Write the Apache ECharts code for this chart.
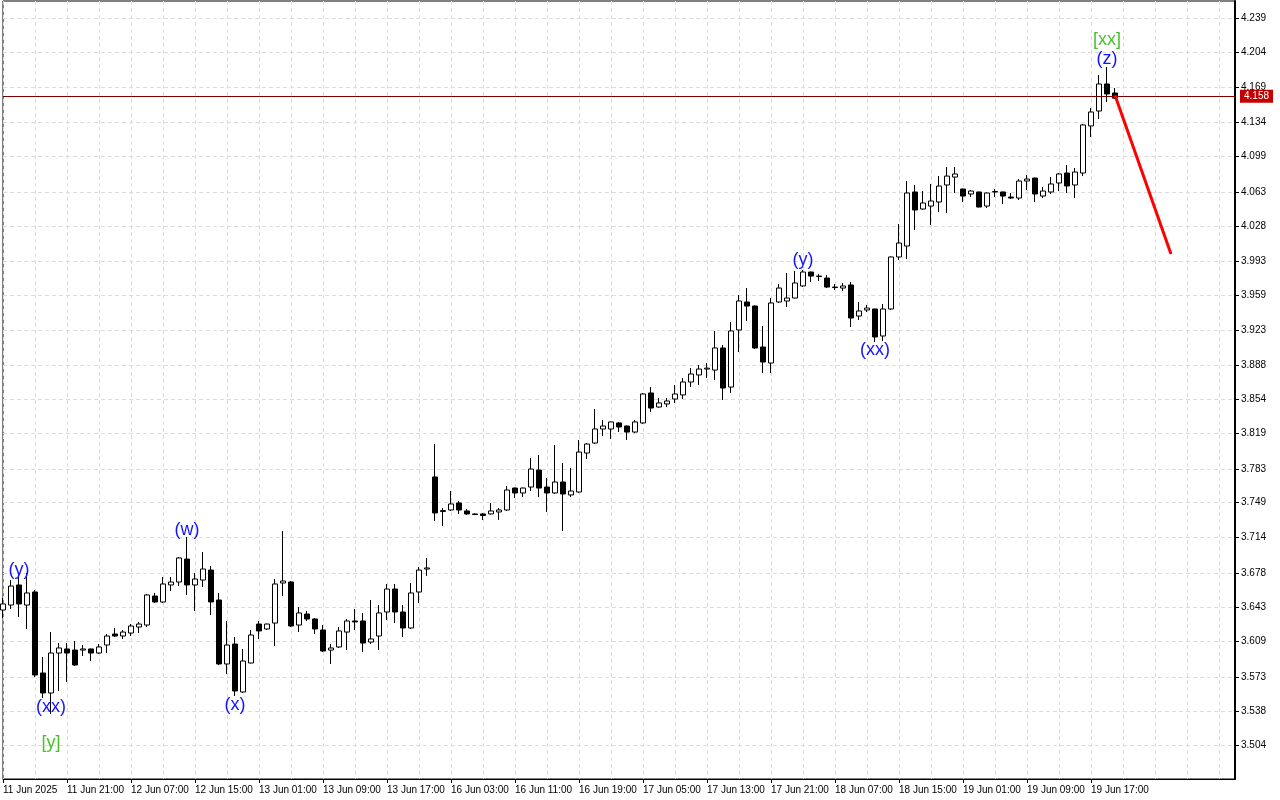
<!DOCTYPE html>
<html>
<head>
<meta charset="utf-8">
<script src="https://cdn.jsdelivr.net/npm/echarts@6.0.0/dist/echarts.min.js"></script>
<style>
html,body{margin:0;padding:0;background:#fff;}
#chart{width:1280px;height:800px;}
</style>
</head>
<body>
<div id="chart"></div>
<script>
// ---- Data ----
// Each bar: [open, close, low, high]
const bars = [
[3.6405,3.6466,3.6324,3.6526],[3.6455,3.6647,3.6415,3.6708],[3.6658,3.6466,3.6334,3.6779],[3.6455,3.6577,3.6213,3.6779],
[3.6587,3.5748,3.5727,3.6607],[3.5768,3.5566,3.5515,3.5930],[3.5566,3.5970,3.5353,3.6182],[3.5970,3.6021,3.5586,3.6071],
[3.6011,3.5970,3.5677,3.6071],[3.6000,3.5849,3.5839,3.6091],[3.6000,3.6011,3.5940,3.6051],[3.6011,3.5970,3.5889,3.6015],
[3.5970,3.6031,3.5960,3.6061],[3.6051,3.6142,3.5970,3.6162],[3.6162,3.6142,3.6132,3.6223],[3.6142,3.6182,3.6112,3.6203],
[3.6172,3.6243,3.6142,3.6263],[3.6233,3.6263,3.6172,3.6284],[3.6253,3.6557,3.6233,3.6567],[3.6546,3.6486,3.6476,3.6577],
[3.6486,3.6668,3.6476,3.6739],[3.6658,3.6688,3.6597,3.6739],[3.6688,3.6931,3.6648,3.6941],[3.6920,3.6658,3.6557,3.7143],
[3.6658,3.6718,3.6395,3.6779],[3.6708,3.6819,3.6637,3.6991],[3.6809,3.6486,3.6354,3.6850],[3.6506,3.5859,3.5849,3.6577],
[3.5859,3.6051,3.5758,3.6294],[3.6061,3.5586,3.5536,3.6132],[3.5576,3.5889,3.5566,3.6011],[3.5869,3.6152,3.5865,3.6203],
[3.6263,3.6193,3.6112,3.6294],[3.6213,3.6263,3.6203,3.6268],[3.6273,3.6668,3.6041,3.6718],[3.6678,3.6698,3.6546,3.7204],
[3.6688,3.6243,3.6233,3.6698],[3.6253,3.6375,3.6182,3.6435],[3.6364,3.6314,3.6294,3.6395],[3.6314,3.6213,3.6162,3.6324],
[3.6203,3.5990,3.5980,3.6253],[3.6000,3.6021,3.5859,3.6061],[3.6031,3.6193,3.6021,3.6233],[3.6182,3.6294,3.6000,3.6314],
[3.6294,3.6284,3.6203,3.6415],[3.6294,3.6071,3.5980,3.6375],[3.6081,3.6112,3.6061,3.6506],[3.6142,3.6375,3.6000,3.6455],
[3.6385,3.6617,3.6304,3.6668],[3.6617,3.6385,3.6273,3.6668],[3.6385,3.6223,3.6132,3.6455],[3.6223,3.6577,3.6213,3.6678],
[3.6587,3.6809,3.6476,3.6840],[3.6819,3.6830,3.6749,3.6931],[3.7750,3.7386,3.7305,3.8083],[3.7400,3.7410,3.7254,3.7436],
[3.7416,3.7477,3.7406,3.7608],[3.7487,3.7416,3.7376,3.7507],[3.7406,3.7376,3.7365,3.7426],[3.7376,3.7370,3.7365,3.7380],
[3.7376,3.7360,3.7315,3.7386],[3.7376,3.7406,3.7370,3.7487],[3.7396,3.7416,3.7315,3.7436],[3.7416,3.7618,3.7406,3.7659],
[3.7638,3.7588,3.7537,3.7643],[3.7588,3.7638,3.7547,3.7643],[3.7648,3.7830,3.7608,3.7942],[3.7820,3.7638,3.7547,3.7972],
[3.7648,3.7588,3.7396,3.7739],[3.7588,3.7699,3.7578,3.8073],[3.7699,3.7578,3.7204,3.7891],[3.7568,3.7608,3.7547,3.7840],
[3.7598,3.8002,3.7590,3.8124],[3.7992,3.8083,3.7932,3.8093],[3.8093,3.8235,3.8083,3.8437],[3.8235,3.8265,3.8164,3.8326],
[3.8235,3.8306,3.8134,3.8310],[3.8296,3.8255,3.8204,3.8306],[3.8265,3.8204,3.8124,3.8270],[3.8204,3.8306,3.8194,3.8326],
[3.8296,3.8589,3.8286,3.8599],[3.8599,3.8447,3.8407,3.8660],[3.8457,3.8498,3.8450,3.8548],[3.8488,3.8518,3.8457,3.8548],
[3.8538,3.8589,3.8498,3.8680],[3.8579,3.8710,3.8538,3.8750],[3.8710,3.8791,3.8659,3.8852],[3.8781,3.8841,3.8680,3.8882],
[3.8841,3.8850,3.8751,3.8902],[3.8831,3.9054,3.8730,3.9226],[3.9054,3.8649,3.8528,3.9084],[3.8659,3.9226,3.8599,3.9317],
[3.9236,3.9529,3.9013,3.9590],[3.9519,3.9478,3.9327,3.9660],[3.9478,3.9054,3.9044,3.9485],[3.9064,3.8912,3.8801,3.9276],
[3.8902,3.9509,3.8801,3.9559],[3.9519,3.9660,3.9509,3.9701],[3.9529,3.9559,3.9468,3.9812],[3.9559,3.9711,3.9555,3.9832],
[3.9681,3.9822,3.9670,3.9842],[3.9822,3.9781,3.9721,3.9825],[3.9781,3.9776,3.9731,3.9802],[3.9761,3.9670,3.9660,3.9791],
[3.9670,3.9665,3.9640,3.9700],[3.9660,3.9681,3.9630,3.9711],[3.9691,3.9357,3.9266,3.9721],[3.9377,3.9428,3.9337,3.9519],
[3.9438,3.9458,3.9418,3.9489],[3.9448,3.9165,3.9114,3.9450],[3.9175,3.9448,3.9124,3.9499],[3.9448,3.9974,3.9438,3.9980],
[3.9974,4.0115,3.9944,4.0307],[4.0085,4.0621,3.9953,4.0742],[4.0631,4.0449,4.0247,4.0702],[4.0459,4.0520,4.0450,4.0641],
[4.0489,4.0540,4.0297,4.0712],[4.0530,4.0691,4.0429,4.0792],[4.0702,4.0792,4.0419,4.0884],[4.0782,4.0813,4.0621,4.0884],
[4.0661,4.0590,4.0530,4.0665],[4.0611,4.0641,4.0580,4.0651],[4.0631,4.0479,4.0475,4.0635],[4.0489,4.0621,4.0469,4.0625],
[4.0631,4.0636,4.0580,4.0661],[4.0631,4.0590,4.0510,4.0636],[4.0580,4.0570,4.0560,4.0621],[4.0570,4.0742,4.0550,4.0762],
[4.0742,4.0762,4.0651,4.0803],[4.0772,4.0611,4.0530,4.0776],[4.0590,4.0641,4.0570,4.0681],[4.0631,4.0712,4.0611,4.0782],
[4.0722,4.0813,4.0641,4.0823],[4.0823,4.0692,4.0621,4.0904],[4.0702,4.0833,4.0570,4.0874],[4.0823,4.1309,4.0792,4.1319],
[4.1299,4.1440,4.1187,4.1480],[4.1450,4.1723,4.1369,4.1814],[4.1723,4.1622,4.1541,4.1895],[4.1632,4.1580,4.1570,4.1682]
];

// x tick labels, one every 8 bars
const xTickLabels = ['11 Jun 2025','11 Jun 21:00','12 Jun 07:00','12 Jun 15:00','13 Jun 01:00','13 Jun 09:00',
  '13 Jun 17:00','16 Jun 03:00','16 Jun 11:00','16 Jun 19:00','17 Jun 05:00','17 Jun 13:00','17 Jun 21:00',
  '18 Jun 07:00','18 Jun 15:00','19 Jun 01:00','19 Jun 09:00','19 Jun 17:00'];
const barsPerLabel = 8;
const totalSlots = 155; // bars + empty space on the right

// y tick labels
const yTickLabels = ['3.504','3.538','3.573','3.609','3.643','3.678','3.714','3.749','3.783','3.819','3.854',
  '3.888','3.923','3.959','3.993','4.028','4.063','4.099','4.134','4.169','4.204','4.239'];
const yMin = 3.46963;
const yMax = 4.25620;

const currentPrice = 4.158;

// forecast line (bar index, price)
const forecastBars = [139, 146];
const forecastPrices = [4.161, 4.0004];

// wave annotations
const annoText  = ['(y)', '(xx)', '[y]', '(w)', '(x)', '(y)', '(xx)', '[xx]', '(z)'];
const annoBar   = [2, 6, 6, 23, 29, 100, 109, 138, 138];
const annoPrice = [3.6804, 3.5424, 3.5060, 3.7214, 3.5444, 3.9944, 3.9029, 4.2171, 4.1975];
const annoColor = ['#1414ff','#1414ff','#4cbf2e','#1414ff','#1414ff','#1414ff','#1414ff','#4cbf2e','#1414ff'];

// ---- Build ----
const categories = [];
for (let i = 0; i < totalSlots; i++) categories.push(String(i));

const isLabelSlot = (idx) => idx % barsPerLabel === 0 && (idx / barsPerLabel) < xTickLabels.length;

const annoData = annoText.map((t, i) => ({
  value: [annoBar[i], annoPrice[i]],
  label: { formatter: t, color: annoColor[i] }
}));

const axisFont = "'Liberation Sans Narrow', 'Liberation Sans', Arial, sans-serif";
const gridLine = { show: true, lineStyle: { color: '#dcdcdc', type: [4, 3], width: 1 } };

const chart = echarts.init(document.getElementById('chart'), null, { renderer: 'canvas' });
chart.setOption({
  animation: false,
  backgroundColor: '#ffffff',
  grid: { left: 2, right: 45, top: 1, bottom: 21, show: true, borderColor: '#000', borderWidth: 1, backgroundColor: '#fff' },
  xAxis: {
    type: 'category',
    data: categories,
    boundaryGap: false,
    axisLine: { show: true, lineStyle: { color: '#000', width: 1 } },
    axisTick: { show: true, interval: (idx) => isLabelSlot(idx), length: 4, lineStyle: { color: '#000' } },
    axisLabel: {
      interval: (idx) => isLabelSlot(idx), align: 'left', margin: 6, color: '#000',
      fontFamily: axisFont, fontSize: 10, hideOverlap: false,
      formatter: (v, idx) => isLabelSlot(idx) ? xTickLabels[idx / barsPerLabel] : ''
    },
    splitLine: Object.assign({ interval: 3 }, gridLine)
  },
  yAxis: {
    type: 'value',
    position: 'right',
    min: yMin, max: yMax,
    scale: true,
    axisLine: { show: true, lineStyle: { color: '#000', width: 2 } },
    axisTick: { show: true, length: 4, customValues: yTickLabels.map(Number), lineStyle: { color: '#000' } },
    axisLabel: {
      customValues: yTickLabels.map(Number), margin: 6, color: '#000',
      fontFamily: axisFont, fontSize: 10,
      formatter: (v) => v.toFixed(3)
    },
    splitLine: gridLine
  },
  series: [
    {
      type: 'candlestick',
      data: bars,
      barWidth: 5,
      clip: true,
      itemStyle: { color: '#ffffff', color0: '#000000', borderColor: '#000000', borderColor0: '#000000', borderWidth: 1 },
      markLine: {
        silent: true, symbol: 'none', animation: false,
        lineStyle: { color: '#7a0000', width: 1, type: 'solid' },
        label: {
          show: true, position: 'end', distance: 5, formatter: currentPrice.toFixed(3),
          backgroundColor: '#c40000', color: '#fff', padding: [2, 4, 1, 4],
          fontFamily: axisFont, fontSize: 10
        },
        data: [{ yAxis: currentPrice }]
      }
    },
    {
      type: 'line',
      data: forecastBars.map((b, i) => [b, forecastPrices[i]]),
      symbol: 'none',
      lineStyle: { color: '#ff0000', width: 3 },
      z: 5
    },
    {
      type: 'scatter',
      data: annoData,
      symbolSize: 1,
      itemStyle: { color: 'rgba(0,0,0,0)' },
      label: { show: true, position: 'inside', fontSize: 18, opacity: 1, textBorderWidth: 0,
               fontFamily: "'Liberation Sans', Arial, sans-serif" },
      emphasis: { disabled: true },
      z: 6
    }
  ]
});
</script>
</body>
</html>
